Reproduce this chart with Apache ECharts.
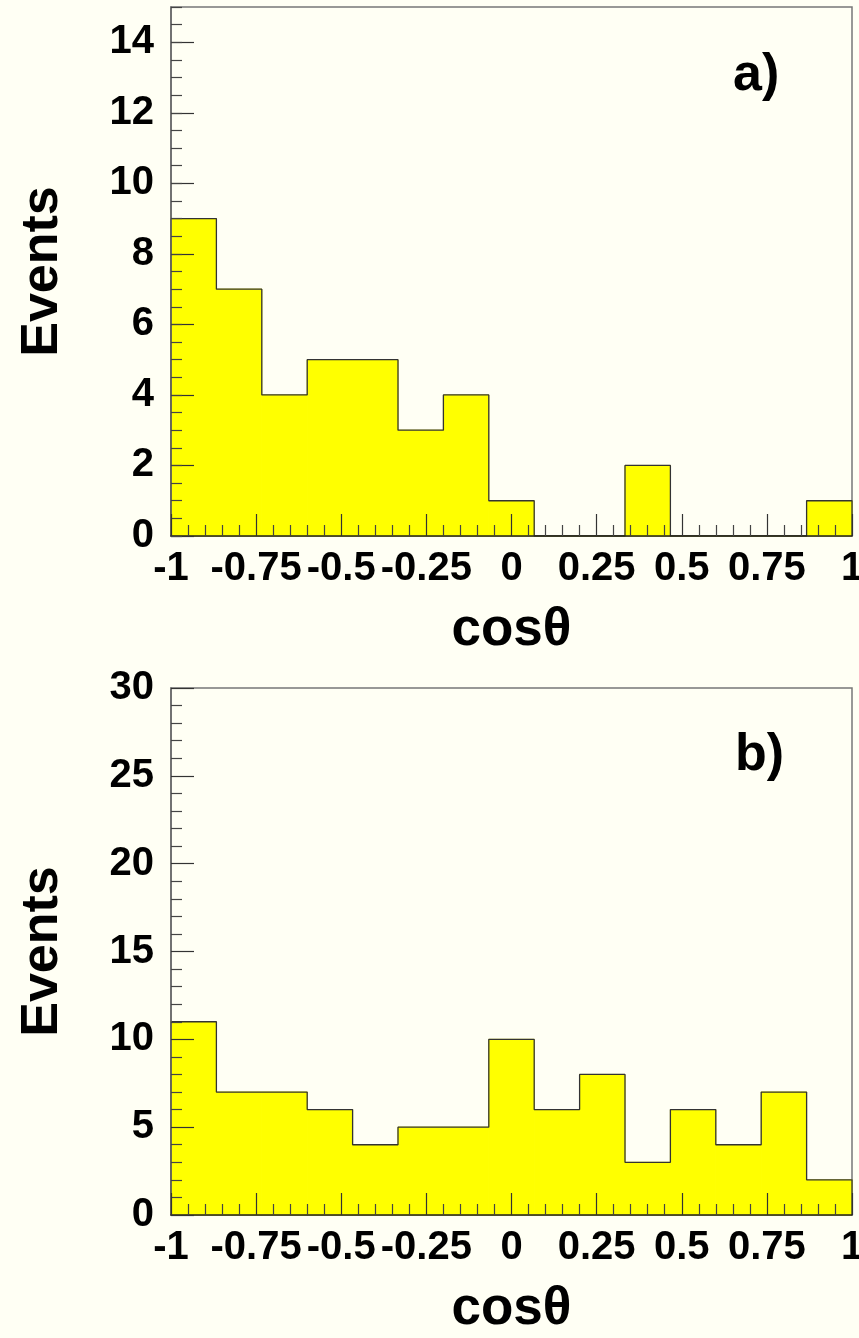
<!DOCTYPE html>
<html>
<head>
<meta charset="utf-8">
<script src="https://cdn.jsdelivr.net/npm/echarts@6/dist/echarts.min.js"></script>
<style>
html,body{margin:0;padding:0;background:#fffff4;overflow:hidden;}
#c{width:859px;height:1338px;}
</style>
</head>
<body>
<div id="c"></div>
<script>
// Histogram data: 15 equal bins over cos(theta) in [-1, 1]
const xMin = -1;
const xMax = 1;
const nBins = 15;
const eventsA = [9, 7, 4, 5, 5, 3, 4, 1, 0, 0, 2, 0, 0, 0, 1];
const eventsB = [11, 7, 7, 6, 4, 5, 5, 10, 6, 8, 3, 6, 4, 7, 2];
const xTickLabels = ['-1', '-0.75', '-0.5', '-0.25', '0', '0.25', '0.5', '0.75', '1'];
const panelLabels = ['a)', 'b)'];
const xTitle = 'cosθ';
const yTitle = 'Events';

const FONT = '"Liberation Sans", Arial, Helvetica, sans-serif';
const binW = (xMax - xMin) / nBins;

function binData(vals) {
  return vals.map((v, i) => [xMin + i * binW, xMin + (i + 1) * binW, v]);
}
function outlineData(vals) {
  const pts = [[xMin, 0]];
  vals.forEach((v, i) => {
    pts.push([xMin + i * binW, v]);
    pts.push([xMin + (i + 1) * binW, v]);
  });
  pts.push([xMax, 0]);
  return pts;
}
function renderBin(params, api) {
  const p0 = api.coord([api.value(0), 0]);
  const p1 = api.coord([api.value(1), api.value(2)]);
  return {
    type: 'rect',
    shape: { x: p0[0], y: p1[1], width: p1[0] - p0[0], height: p0[1] - p1[1] },
    style: { fill: '#ffff00', stroke: '#ffff00', lineWidth: 1 }
  };
}

const labelStyle = { color: '#000', fontFamily: FONT, fontWeight: 'bold', fontSize: 40 };

function xAxisCfg(gridIndex) {
  return {
    type: 'value', gridIndex, min: xMin, max: xMax, interval: 0.25, z: 5,
    axisLine: { show: true, onZero: false, lineStyle: { color: '#222', width: 1.5 } },
    axisTick: { show: true, inside: true, length: 22, lineStyle: { color: '#333', width: 1.2 } },
    minorTick: { show: true, splitNumber: 5, length: 11, lineStyle: { color: '#444', width: 1.2 } },
    splitLine: { show: false },
    axisLabel: Object.assign({ margin: 13, formatter: (v) => xTickLabels[Math.round((v - xMin) / 0.25)] }, labelStyle),
    name: xTitle, nameLocation: 'middle', nameGap: 68,
    nameTextStyle: { color: '#000', fontFamily: FONT, fontWeight: 'bold', fontSize: 53 }
  };
}

const gridBase = { left: 171, width: 681, show: true, borderColor: '#777', borderWidth: 1.5,
  backgroundColor: 'transparent', containLabel: false, outerBoundsMode: 'none' };

const option = {
  backgroundColor: '#fffff4',
  animation: false,
  grid: [
    Object.assign({ top: 7, height: 529 }, gridBase),
    Object.assign({ top: 688, height: 527 }, gridBase)
  ],
  xAxis: [xAxisCfg(0), xAxisCfg(1)],
  yAxis: [
    {
      type: 'value', gridIndex: 0, min: 0, max: 15, interval: 2, z: 5,
      axisLine: { show: true, onZero: false, lineStyle: { color: '#666', width: 1.5 } },
      axisTick: { show: true, inside: true, length: 23, lineStyle: { color: '#333', width: 1.2 } },
      splitLine: { show: false },
      axisLabel: Object.assign({ margin: 17, showMaxLabel: false }, labelStyle),
      name: yTitle, nameLocation: 'middle', nameGap: 102,
      nameTextStyle: { color: '#000', fontFamily: FONT, fontWeight: 'bold', fontSize: 52 }
    },
    {
      type: 'value', gridIndex: 0, min: 0, max: 15, interval: 0.5, z: 5, position: 'left',
      axisLine: { show: false, onZero: false },
      axisTick: { show: true, inside: true, length: 11, lineStyle: { color: '#444', width: 1.2 } },
      splitLine: { show: false },
      axisLabel: { show: false }
    },
    {
      type: 'value', gridIndex: 1, min: 0, max: 30, interval: 5, z: 5,
      axisLine: { show: true, onZero: false, lineStyle: { color: '#666', width: 1.5 } },
      axisTick: { show: true, inside: true, length: 23, lineStyle: { color: '#333', width: 1.2 } },
      minorTick: { show: true, splitNumber: 5, length: 11, lineStyle: { color: '#444', width: 1.2 } },
      splitLine: { show: false },
      axisLabel: Object.assign({ margin: 17 }, labelStyle),
      name: yTitle, nameLocation: 'middle', nameGap: 102,
      nameTextStyle: { color: '#000', fontFamily: FONT, fontWeight: 'bold', fontSize: 52 }
    }
  ],
  series: [
    { type: 'custom', xAxisIndex: 0, yAxisIndex: 0, z: 2, renderItem: renderBin,
      encode: { x: [0, 1], y: 2 }, data: binData(eventsA) },
    { type: 'line', xAxisIndex: 0, yAxisIndex: 0, z: 3, showSymbol: false, symbol: 'none',
      lineStyle: { color: '#333', width: 1.3 }, data: outlineData(eventsA) },
    { type: 'custom', xAxisIndex: 1, yAxisIndex: 2, z: 2, renderItem: renderBin,
      encode: { x: [0, 1], y: 2 }, data: binData(eventsB) },
    { type: 'line', xAxisIndex: 1, yAxisIndex: 2, z: 3, showSymbol: false, symbol: 'none',
      lineStyle: { color: '#333', width: 1.3 }, data: outlineData(eventsB) }
  ],
  graphic: [
    { type: 'text', left: 733, top: 50, z: 10,
      style: { text: panelLabels[0], fill: '#000', font: 'bold 52px ' + FONT } },
    { type: 'text', left: 735, top: 730, z: 10,
      style: { text: panelLabels[1], fill: '#000', font: 'bold 52px ' + FONT } }
  ]
};

const chart = echarts.init(document.getElementById('c'), null, { renderer: 'canvas' });
chart.setOption(option);
</script>
</body>
</html>
